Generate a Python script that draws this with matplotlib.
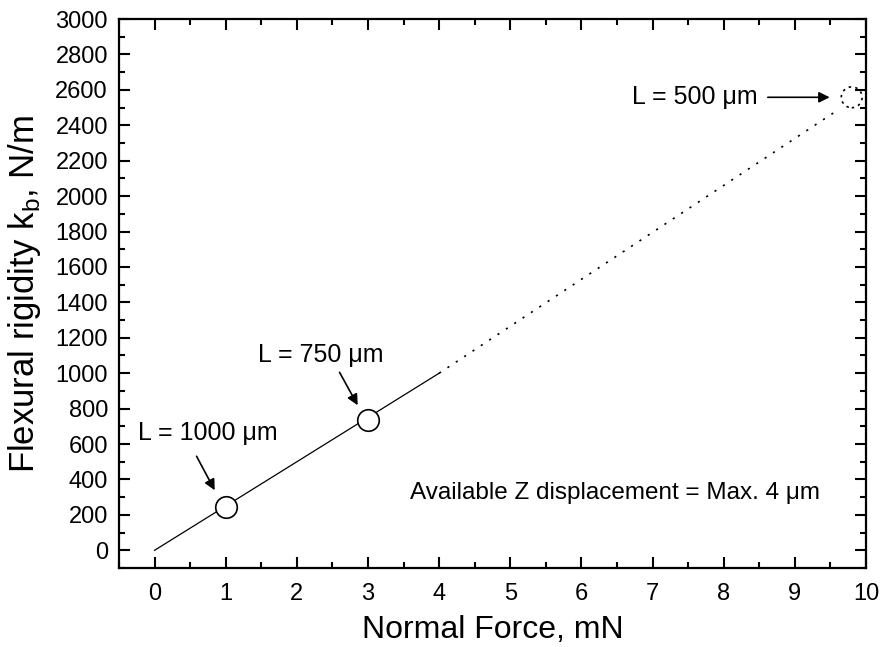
import matplotlib
matplotlib.use("Agg")
import matplotlib.pyplot as plt
from matplotlib.ticker import MultipleLocator

plt.rcParams['font.family'] = ['Liberation Sans', 'DejaVu Sans']

# Data
solid_x = [0, 4]
solid_y = [0, 1000]
dotted_x = [4, 9.62]
dotted_y = [1000, 2490]
pts_x = [1, 3]
pts_y = [245, 735]
pt500_x = [9.8]
pt500_y = [2558]
labels = ["L = 1000 \u03bcm", "L = 750 \u03bcm", "L = 500 \u03bcm"]

fig = plt.figure(figsize=(8.83, 6.47), dpi=100)
ax = fig.add_axes([0.1348, 0.1221, 0.8459, 0.8485])

ax.plot(solid_x, solid_y, color='black', lw=0.9)
ax.plot(dotted_x, dotted_y, color='black', lw=1.2, linestyle=(0, (1.3, 4.7)))
ax.plot(pts_x, pts_y, 'o', ms=15.5, mfc='white', mec='black', mew=1.2)
ax.scatter(pt500_x, pt500_y, s=15.0**2, facecolors='none', edgecolors='black',
           linewidths=1.2, linestyle=(0, (1.5, 2.5)), zorder=3)

ax.set_xlim(-0.5, 10)
ax.set_ylim(-100, 3000)
ax.xaxis.set_major_locator(MultipleLocator(1))
ax.xaxis.set_minor_locator(MultipleLocator(0.5))
ax.yaxis.set_major_locator(MultipleLocator(200))
ax.yaxis.set_minor_locator(MultipleLocator(100))
ax.tick_params(which='both', direction='in', top=True, right=True, width=1.5, labelsize=17)
ax.tick_params(which='major', length=8)
ax.tick_params(which='minor', length=4)
ax.tick_params(axis='x', which='major', pad=11)
ax.tick_params(axis='y', which='major', pad=8)
for s in ax.spines.values():
    s.set_linewidth(1.6)

ax.set_xlabel("Normal Force, mN", fontsize=23, labelpad=7)
ax.set_ylabel(r"Flexural rigidity k$_\mathregular{b}$, N/m", fontsize=25, labelpad=9)

arrowprops = dict(arrowstyle='-|>', color='black', lw=1.2, mutation_scale=16, shrinkA=0, shrinkB=0)
ax.annotate('', xy=(0.845, 339), xytext=(0.59, 531), arrowprops=arrowprops)
ax.text(0.745, 661, labels[0], ha='center', va='center', fontsize=18)
ax.annotate('', xy=(2.855, 819), xytext=(2.60, 1005), arrowprops=arrowprops)
ax.text(2.335, 1101, labels[1], ha='center', va='center', fontsize=18)
ax.annotate('', xy=(9.49, 2558), xytext=(8.62, 2558), arrowprops=arrowprops)
ax.text(8.48, 2558, labels[2], ha='right', va='center', fontsize=18)
ax.text(6.47, 322, "Available Z displacement = Max. 4 \u03bcm", ha='center', va='center', fontsize=17.5)

fig.savefig("out.png", dpi=100)
